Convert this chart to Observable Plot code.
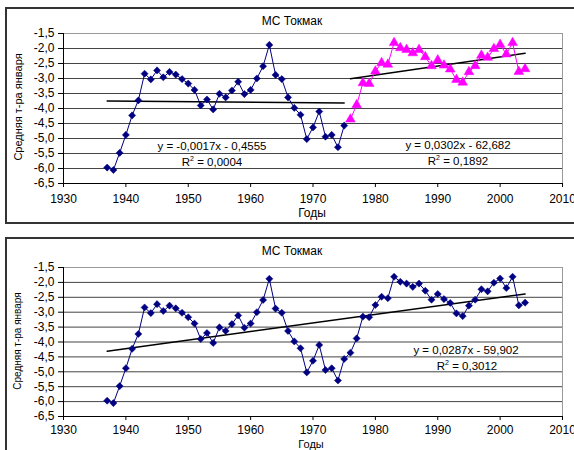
<!DOCTYPE html>
<html>
<head>
<meta charset="utf-8">
<script src="https://cdn.jsdelivr.net/npm/d3@7"></script>
<script src="https://cdn.jsdelivr.net/npm/@observablehq/plot@0.6"></script>
<style>
  html, body { margin: 0; padding: 0; background: #fff; }
  #root { position: relative; width: 574px; height: 450px; overflow: hidden; background: #fff;
          font-family: "Liberation Sans", Arial, sans-serif; color: #000; }
  .frame { position: absolute; border: 2px solid #333; box-sizing: border-box; }
  .abs { position: absolute; white-space: nowrap; }
  .svgwrap { position: absolute; left: 0; }
  .ttl { font-size: 12px; transform: translateX(-50%); }
  .eq { font-size: 11.5px; transform: translateX(-50%); }
  .eq sup { font-size: 7px; vertical-align: 5px; line-height: 0; }
  .ylab { font-size: 11px; transform: translate(-50%, -50%) rotate(-90deg); }
</style>
</head>
<body>
<div id="root"></div>
<script>
// ---- data ----
const yearsEarly = [1937,1938,1939,1940,1941,1942,1943,1944,1945,1946,1947,1948,1949,1950,
  1951,1952,1953,1954,1955,1956,1957,1958,1959,1960,1961,1962,1963,1964,1965,1966,1967,1968,
  1969,1970,1971,1972,1973,1974,1975];
const tempEarly = [-5.97,-6.05,-5.48,-4.88,-4.23,-3.73,-2.84,-3.03,-2.73,-2.96,-2.78,-2.87,-3.02,-3.17,
  -3.38,-3.90,-3.70,-4.03,-3.51,-3.63,-3.40,-3.11,-3.52,-3.38,-3.00,-2.59,-1.88,-2.88,-3.02,-3.63,-3.98,-4.21,
  -5.02,-4.63,-4.10,-4.94,-4.88,-5.29,-4.57];
const yearsLate = [1976,1977,1978,1979,1980,1981,1982,1983,1984,1985,1986,1987,1988,1989,1990,
  1991,1992,1993,1994,1995,1996,1997,1998,1999,2000,2001,2002,2003,2004];
const tempLate = [-4.36,-3.88,-3.15,-3.17,-2.76,-2.48,-2.53,-1.81,-1.98,-2.04,-2.15,-2.04,-2.28,-2.58,-2.39,
  -2.56,-2.69,-3.04,-3.13,-2.78,-2.58,-2.23,-2.30,-2.01,-1.87,-2.19,-1.81,-2.77,-2.68];

// trend coefficients [slope, intercept] and fitted year ranges
const trendEarly = [-0.0017, -0.4555];
const trendLate = [0.0302, -62.682];
const trendAll = [0.0287, -59.902];

const titleText = "МС Токмак";
const xLabelText = "Годы";
const yLabelText = "Средняя т-ра января";
const eqEarly = ["y = -0,0017x - 0,4555", "0,0004"];
const eqLate = ["y = 0,0302x - 62,682", "0,1892"];
const eqAll = ["y = 0,0287x - 59,902", "0,3012"];

const xTicks = [1930,1940,1950,1960,1970,1980,1990,2000,2010];
const yTicks = [-1.5,-2.0,-2.5,-3.0,-3.5,-4.0,-4.5,-5.0,-5.5,-6.0,-6.5];

// ---- helpers ----
const toRows = (ys, vs) => ys.map((y, i) => ({year: y, t: vs[i]}));
const early = toRows(yearsEarly, tempEarly);
const late = toRows(yearsLate, tempLate);
const all = early.concat(late);
const trendRows = (coef, ys) => {
  const x0 = d3.min(ys), x1 = d3.max(ys);
  return [x0, x1].map(x => ({year: x, t: coef[0] * x + coef[1]}));
};
const fmtY = d => d.toFixed(1).replace(".", ",");
const navy = "#000080", pink = "#ff00ff";

function makePlot({height, marginTop, marginBottom, xPad, marks}) {
  return Plot.plot({
    width: 574, height,
    marginLeft: 63, marginRight: 12, marginTop, marginBottom,
    style: {fontFamily: '"Liberation Sans", Arial, sans-serif', fontSize: "12px", color: "#000", background: "transparent"},
    x: {domain: [1930, 2010]},
    y: {domain: [-6.5, -1.5]},
    marks: [
      Plot.ruleY(yTicks.slice(1, -1), {stroke: "#444", strokeWidth: 1}),
      Plot.frame({stroke: "#999", strokeWidth: 1}),
      Plot.ruleY([-6.5], {stroke: "#000", strokeWidth: 1}),
      Plot.ruleX([1930], {stroke: "#000", strokeWidth: 1}),
      Plot.axisY({ticks: yTicks, tickFormat: fmtY, tickSize: 5, tickPadding: 4, label: null, stroke: "#000"}),
      Plot.axisX({ticks: xTicks, tickFormat: d => String(d), tickSize: 4, tickPadding: xPad, label: null, stroke: "#000"}),
      ...marks
    ]
  });
}

const root = document.getElementById("root");
function add(html, cls, left, top) {
  const el = document.createElement("div");
  el.className = "abs " + cls;
  el.style.left = left + "px";
  el.style.top = top + "px";
  el.innerHTML = html;
  root.appendChild(el);
  return el;
}

// frames
const f1 = document.createElement("div");
f1.className = "frame"; Object.assign(f1.style, {left: "5px", top: "7px", width: "620px", height: "217px"});
root.appendChild(f1);
const f2 = document.createElement("div");
f2.className = "frame"; Object.assign(f2.style, {left: "5px", top: "237px", width: "620px", height: "300px"});
root.appendChild(f2);

// top chart
const p1 = makePlot({
  height: 225, marginTop: 33, marginBottom: 42, xPad: 7,
  marks: [
    Plot.line(trendRows(trendEarly, yearsEarly), {x: "year", y: "t", stroke: "#000", strokeWidth: 1.5}),
    Plot.line(trendRows(trendLate, yearsLate), {x: "year", y: "t", stroke: "#000", strokeWidth: 1.5}),
    Plot.line(early.concat([late[0]]).slice(0, early.length), {x: "year", y: "t", stroke: navy, strokeWidth: 1}),
    Plot.line(late, {x: "year", y: "t", stroke: pink, strokeWidth: 1}),
    Plot.dot(early, {x: "year", y: "t", symbol: "diamond2", r: 3.2, fill: navy, stroke: navy, strokeWidth: 0.5}),
    Plot.dot(late, {x: "year", y: "t", symbol: "triangle", r: 3.6, fill: pink, stroke: pink, strokeWidth: 0.5})
  ]
});
const w1 = document.createElement("div"); w1.className = "svgwrap"; w1.style.top = "0px";
w1.appendChild(p1); root.appendChild(w1);

// bottom chart
const p2 = makePlot({
  height: 216, marginTop: 33, marginBottom: 34, xPad: 5,
  marks: [
    Plot.line(trendRows(trendAll, yearsEarly.concat(yearsLate)), {x: "year", y: "t", stroke: "#000", strokeWidth: 1.5}),
    Plot.line(all, {x: "year", y: "t", stroke: navy, strokeWidth: 1}),
    Plot.dot(all, {x: "year", y: "t", symbol: "diamond2", r: 3.2, fill: navy, stroke: navy, strokeWidth: 0.5})
  ]
});
const w2 = document.createElement("div"); w2.className = "svgwrap"; w2.style.top = "234px";
w2.appendChild(p2); root.appendChild(w2);

// texts top
add(titleText, "ttl", 292, 14);
add(xLabelText, "ttl", 312, 206);
add(yLabelText, "ylab", 18, 107);
add(eqEarly[0], "eq", 212, 140);
add("R<sup>2</sup> = " + eqEarly[1], "eq", 212, 156);
add(eqLate[0], "eq", 458, 139);
add("R<sup>2</sup> = " + eqLate[1], "eq", 458, 155);

// texts bottom
add(titleText, "ttl", 292, 244);
add(xLabelText, "ttl", 311, 438).style.fontSize = "11px";
add(yLabelText, "ylab", 17, 341).style.fontSize = "10px";
add(eqAll[0], "eq", 466, 344);
add("R<sup>2</sup> = " + eqAll[1], "eq", 467, 360);
</script>
</body>
</html>
